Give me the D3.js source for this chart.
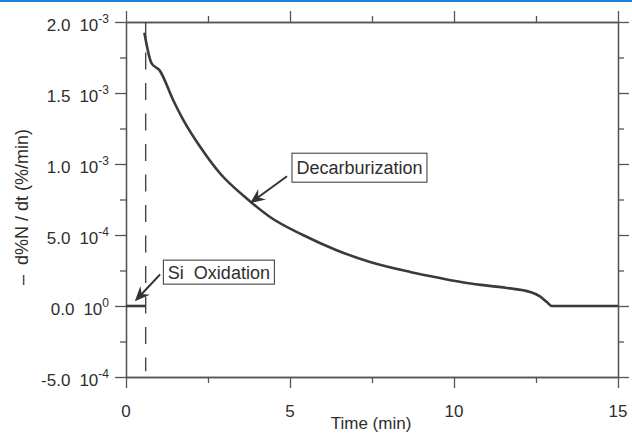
<!DOCTYPE html>
<html>
<head>
<meta charset="utf-8">
<script src="https://cdn.jsdelivr.net/npm/d3@7"></script>
<style>
  body { margin: 0; background: #fff; }
  svg { display: block; }
  text { font-family: Arial, "Liberation Sans", Helvetica, sans-serif; fill: #2e2e2e; }
</style>
</head>
<body>
<script>
// decarburization rate (time in min, rate in %/min)
const decarbTime = [0.56, 0.78, 1.02, 1.44, 1.75, 2.26, 2.87, 3.68, 4.39, 5.41, 6.42, 7.44, 8.66, 9.57, 10.39, 11.61, 12.32, 12.62, 12.83, 12.98, 13.7, 15];
const decarbRate = [1.924e-3, 1.708e-3, 1.661e-3, 1.449e-3, 1.309e-3, 1.121e-3, 0.933e-3, 0.757e-3, 0.627e-3, 0.498e-3, 0.393e-3, 0.310e-3, 0.240e-3, 0.197e-3, 0.162e-3, 0.127e-3, 0.099e-3, 0.068e-3, 0.028e-3, 0, 0.005e-5, 0.002e-5];

// Si oxidation stage (flat)
const siTime = [0, 0.6];
const siRate = [0, 0];

// end of Si oxidation (dashed marker)
const switchTime = 0.6;

const xMajor = [0, 5, 10, 15];
const xMinor = [2.5, 7.5, 12.5];
const yMajor = [-5e-4, 0, 5e-4, 1e-3, 1.5e-3, 2e-3];
const yMinor = [-2.5e-4, 2.5e-4, 7.5e-4, 1.25e-3, 1.75e-3];
const yMant = ["-5.0", "0.0", "5.0", "1.0", "1.5", "2.0"];
const yExp = ["-4", "0", "-4", "-3", "-3", "-3"];

const W = 632, H = 437;
const svg = d3.select("body").append("svg").attr("width", W).attr("height", H);

// thin blue rule at the very top
svg.append("rect").attr("x", 0).attr("y", 0).attr("width", W).attr("height", 2).attr("fill", "#1b7fd6");

const x = d3.scaleLinear().domain([0, 15]).range([126, 618]);
const y = d3.scaleLinear().domain([-5e-4, 2e-3]).range([377, 22]);

const axisCol = "#555";

function frame(axis, tr, vals, size) {
  const g = svg.append("g").attr("transform", tr)
    .call(axis.tickValues(vals).tickSize(size).tickSizeOuter(0).tickFormat(""));
  g.select(".domain").attr("stroke", axisCol).attr("stroke-width", 1.3);
  g.selectAll(".tick line").attr("stroke", axisCol).attr("stroke-width", 1.3);
}

frame(d3.axisBottom(x), `translate(0,${y(-5e-4)})`, xMajor, 11);
frame(d3.axisBottom(x), `translate(0,${y(-5e-4)})`, xMinor, 6);
frame(d3.axisTop(x), `translate(0,${y(2e-3)})`, xMajor, 11);
frame(d3.axisTop(x), `translate(0,${y(2e-3)})`, xMinor, 6);
frame(d3.axisLeft(y), `translate(${x(0)},0)`, yMajor, 11);
frame(d3.axisLeft(y), `translate(${x(0)},0)`, yMinor, 6);
frame(d3.axisRight(y), `translate(${x(15)},0)`, yMajor, 11);
frame(d3.axisRight(y), `translate(${x(15)},0)`, yMinor, 6);

// x tick labels
svg.append("g").selectAll("text").data(xMajor).join("text")
  .attr("x", d => x(d)).attr("y", 417)
  .attr("text-anchor", "middle").attr("font-size", 17)
  .text(d => d);

// y tick labels with exponent
const yl = svg.append("g").selectAll("text").data(yMajor).join("text")
  .attr("x", 109).attr("y", d => y(d) + 8.5)
  .attr("text-anchor", "end").attr("font-size", 17);
yl.append("tspan").text((d, i) => yMant[i]);
yl.append("tspan").attr("dx", 9).text("10");
yl.append("tspan").attr("dy", -8).attr("font-size", 12).text((d, i) => yExp[i]);

// axis titles
svg.append("text").attr("x", 371).attr("y", 429).attr("text-anchor", "middle")
  .attr("font-size", 17).text("Time (min)");
svg.append("text").attr("transform", "translate(28,207) rotate(-90)")
  .attr("text-anchor", "middle").attr("font-size", 18).attr("xml:space", "preserve")
  .text("\u2013  d%N / dt (%/min)");

// dashed switch line
svg.append("line")
  .attr("x1", x(switchTime)).attr("x2", x(switchTime))
  .attr("y1", y(2e-3)).attr("y2", y(-4.6e-4))
  .attr("stroke", "#444").attr("stroke-width", 1.4).attr("stroke-dasharray", "17,13.5");

// curves
const line = d3.line().x(d => x(d[0])).y(d => y(d[1])).curve(d3.curveMonotoneX);
svg.append("path").datum(d3.zip(decarbTime, decarbRate)).attr("d", line)
  .attr("fill", "none").attr("stroke", "#3a3a3a").attr("stroke-width", 2.6).attr("stroke-linejoin", "round");
svg.append("path").datum(d3.zip(siTime, siRate)).attr("d", line)
  .attr("fill", "none").attr("stroke", "#3a3a3a").attr("stroke-width", 2.6);

// annotations
function arrow(t0, v0, t1, v1) {
  const x0 = x(t0), y0 = y(v0), x1 = x(t1), y1 = y(v1);
  const a = Math.atan2(y1 - y0, x1 - x0);
  svg.append("line").attr("x1", x0).attr("y1", y0)
    .attr("x2", x1 - 8 * Math.cos(a)).attr("y2", y1 - 8 * Math.sin(a))
    .attr("stroke", "#333").attr("stroke-width", 2);
  const L = 15, Wd = 6.5, back = 10;
  const p = (dl, dw) => [x1 - dl * Math.cos(a) - dw * Math.sin(a), y1 - dl * Math.sin(a) + dw * Math.cos(a)];
  svg.append("path").attr("d", "M" + [p(0, 0), p(L, Wd), p(back, 0), p(L, -Wd)].join("L") + "Z")
    .attr("fill", "#333");
}

function label(t, v, w, h, txt) {
  const bx = x(t), by = y(v);
  svg.append("rect").attr("x", bx).attr("y", by).attr("width", w).attr("height", h)
    .attr("fill", "#fff").attr("stroke", "#444").attr("stroke-width", 1.1);
  svg.append("text").attr("x", bx + w / 2).attr("y", by + h / 2 + 6.5)
    .attr("text-anchor", "middle").attr("font-size", 18).attr("xml:space", "preserve").text(txt);
}

arrow(4.91, 0.914e-3, 3.78, 0.724e-3);
label(5.06, 1.076e-3, 135, 29, "Decarburization");
arrow(1.04, 0.223e-3, 0.27, 0.033e-3);
label(1.14, 0.323e-3, 111, 24, "Si  Oxidation");
</script>
</body>
</html>
